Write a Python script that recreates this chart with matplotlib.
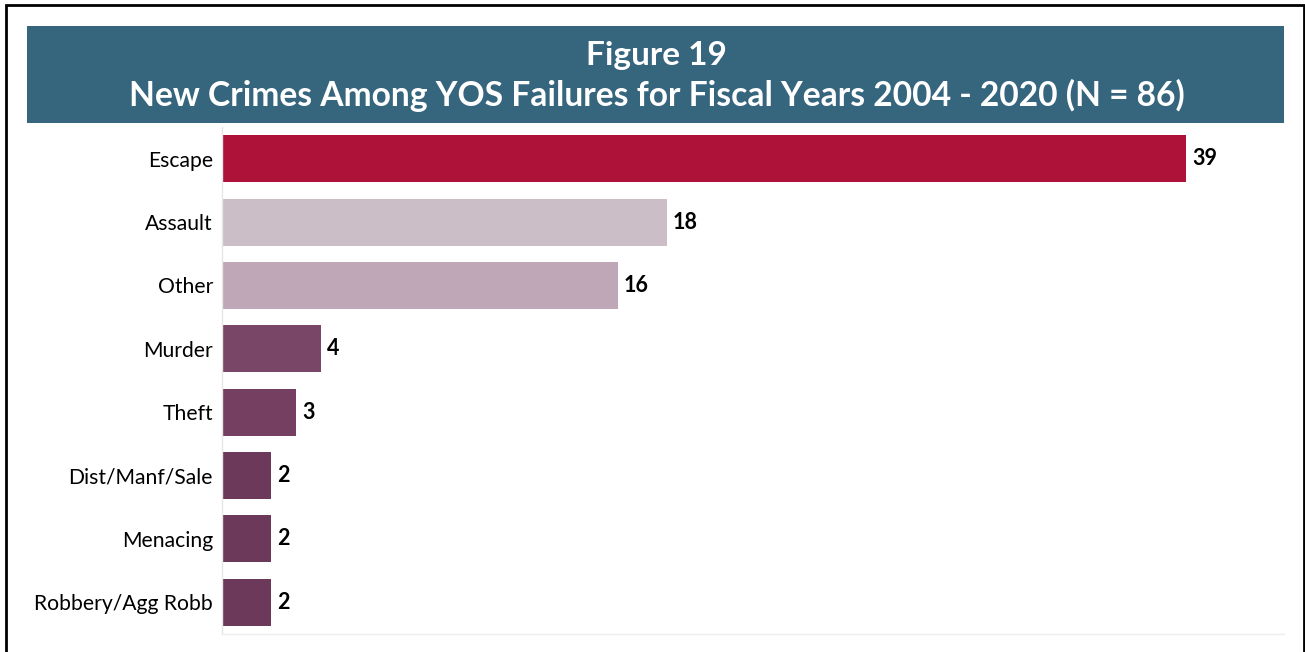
import matplotlib
matplotlib.use("Agg")
import matplotlib.pyplot as plt
from matplotlib.patches import Rectangle

categories = ["Escape", "Assault", "Other", "Murder", "Theft",
              "Dist/Manf/Sale", "Menacing", "Robbery/Agg Robb"]
values = [39, 18, 16, 4, 3, 2, 2, 2]
colors = ["#AE1238", "#CBBEC7", "#BFA7B8", "#7A4667", "#743F60",
          "#6D395B", "#6D395B", "#6D395B"]
title_line1 = "Figure 19"
title_line2 = "New Crimes Among YOS Failures for Fiscal Years 2004 - 2020 (N = 86)"

W, H = 1305, 652
fig = plt.figure(figsize=(W / 100, H / 100), dpi=100)
fig.patch.set_facecolor("white")
plt.rcParams["font.family"] = ["Lato", "DejaVu Sans"]

def fx(px):
    return px / W

def fy(py):
    return 1 - py / H

# outer border
fig.patches.append(Rectangle((fx(6), fy(700)), fx(1304) - fx(6), fy(5) - fy(700),
                             transform=fig.transFigure, fill=False,
                             edgecolor="black", linewidth=2, zorder=0))
# title band
fig.patches.append(Rectangle((fx(27), fy(123)), fx(1284) - fx(27), fy(26) - fy(123),
                             transform=fig.transFigure, facecolor="#36657E",
                             edgecolor="none", zorder=1))
fig.text(fx(656), fy(55), title_line1, color="white", fontsize=24,
         fontweight="bold", ha="center", va="center")
fig.text(fx(657), fy(95), title_line2, color="white", fontsize=24.2,
         fontweight="bold", ha="center", va="center")

ax = fig.add_axes([fx(222), fy(634), fx(1284) - fx(222), fy(127) - fy(634)])
y = list(range(len(categories)))
ax.barh(y, values, height=0.74, color=colors, zorder=2)
ax.set_xlim(0, 42.96)
ax.set_ylim(7.5, -0.5)
ax.set_yticks(y)
ax.set_yticklabels(categories, fontsize=15.2)
ax.tick_params(axis="y", length=0, pad=6.5)
ax.set_xticks([])
for s in ["top", "right"]:
    ax.spines[s].set_visible(False)
ax.spines["left"].set_color("#E6E6E6")
ax.spines["bottom"].set_color("#EEEEEE")
ax.spines["left"].set_linewidth(1)
ax.spines["bottom"].set_linewidth(1)
for yi, v in zip(y, values):
    ax.annotate(str(v), (v, yi), xytext=(4.3, 0), textcoords="offset points",
                ha="left", va="center", fontsize=15.5, fontweight="bold")

fig.savefig("out.png", dpi=100)
